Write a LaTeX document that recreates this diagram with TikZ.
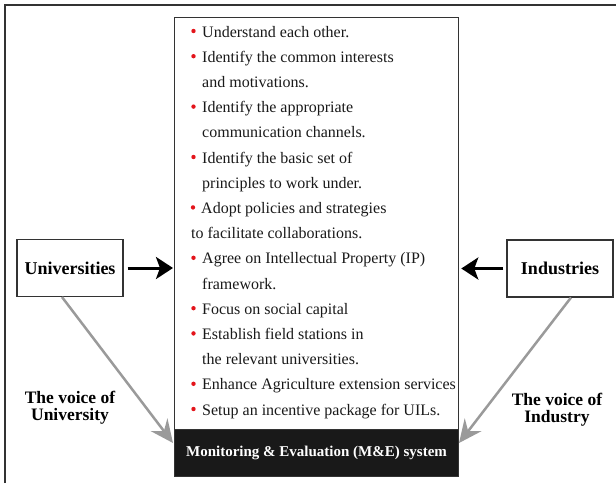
\documentclass[tikz,border=0pt]{standalone}
\usepackage{fontspec}
\setmainfont{Liberation Serif}
\usetikzlibrary{arrows.meta}
\definecolor{frameline}{HTML}{333333}
\definecolor{voicegray}{HTML}{9A9A9A}
\definecolor{bulletred}{HTML}{E3141B}
\begin{document}
\begin{tikzpicture}[x=1pt,y=-1pt,
  item/.style={anchor=base west,inner sep=0pt,font=\fontsize{16}{20}\selectfont,text=black!90},
  bul/.style={fill=bulletred},
  party/.style={draw=frameline,line width=1.1pt,minimum width=106pt,minimum height=57pt,
    inner sep=0pt,font=\bfseries\fontsize{18}{20}\selectfont},
  voice/.style={align=center,inner sep=0pt,font=\bfseries\fontsize{17.5}{17}\selectfont},
  push/.style={line width=3pt,-{Stealth[length=17pt,width=22pt,inset=4pt]}},
  feed/.style={draw=voicegray,line width=2.5pt,-{Stealth[length=23pt,width=21pt,inset=8pt]},voicegray}]
\useasboundingbox (0,0) rectangle (616,483);

% outer frame (left and top edges)
\draw[frameline,line width=1.5pt] (5,483) -- (5,5) -- (616,5);

% central list box and M&E bar
\node[draw=frameline,line width=1.3pt,anchor=north west,minimum width=284pt,minimum height=412pt,inner sep=0pt]
  (board) at (174,17) {};
\node[fill=black!90,draw=frameline,line width=1pt,anchor=north west,minimum width=284pt,minimum height=47pt,inner sep=0pt,
  text=white,font=\bfseries\fontsize{15}{18}\selectfont] (me) at (174,429) {Monitoring \& Evaluation (M\&E) system};

% list entries
\node[item] (i1)  at (202,37.0)  {Understand each other.};
\node[item] (i2)  at (202,62.2)  {Identify the common interests};
\node[item] (i3)  at (202,87.4)  {and motivations.};
\node[item] (i4)  at (202,112.6) {Identify the appropriate};
\node[item] (i5)  at (202,137.8) {communication channels.};
\node[item] (i6)  at (202,163.0) {Identify the basic set of};
\node[item] (i7)  at (202,188.2) {principles to work under.};
\node[item] (i8)  at (201,213.4) {Adopt policies and strategies};
\node[item] (i9)  at (191,238.6) {to facilitate collaborations.};
\node[item] (i10) at (202,263.8) {Agree on Intellectual Property (IP)};
\node[item] (i11) at (202,289.0) {framework.};
\node[item] (i12) at (202,314.2) {Focus on social capital};
\node[item] (i13) at (202,339.4) {Establish field stations in};
\node[item] (i14) at (202,364.6) {the relevant universities.};
\node[item] (i15) at (202,389.8) {Enhance Agriculture extension services};
\node[item] (i16) at (202,415.0) {Setup an incentive package for UILs.};

% red bullets
\foreach \b in {i1,i2,i4,i6,i10,i12,i13,i15,i16}
  \fill[bul] ([xshift=-8.5pt,yshift=6pt]\b.base west) circle (2.2pt);
\fill[bul] ([xshift=-8pt,yshift=6pt]i8.base west) circle (2.2pt);

% the two parties
\node[party] (uni) at (70,268) {Universities};
\node[party] (ind) at (560,268.5) {Industries};

\draw[push] ([xshift=4pt]uni.east) -- ([xshift=-1pt]uni.east -| board.west);
\draw[push] ([xshift=-3pt]ind.west) -- ([xshift=2pt]ind.west -| board.east);

% feedback into monitoring
\coordinate (utip) at (173,443);
\coordinate (itip) at (459,443);
\draw[feed] ([xshift=-8pt]uni.south) -- (utip);
\draw[feed] ([xshift=11pt]ind.south) -- (itip);

\node[voice,anchor=base] (uv) at (70,420) {The voice of\\University};
\node[voice,anchor=base] (iv) at (557,422) {The voice of\\Industry};
\end{tikzpicture}
\end{document}
